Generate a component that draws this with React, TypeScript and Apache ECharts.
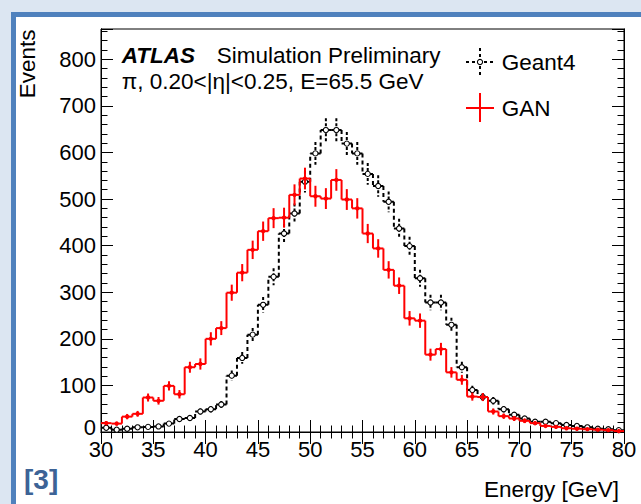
import React, { useEffect, useRef } from "react";
import * as echarts from "echarts";

const binEdges = [30, 31, 32, 33, 34, 35, 36, 37, 38, 39, 40, 41, 42, 43, 44, 45, 46, 47, 48, 49, 50, 51, 52, 53, 54, 55, 56, 57, 58, 59, 60, 61, 62, 63, 64, 65, 66, 67, 68, 69, 70, 71, 72, 73, 74, 75, 76, 77, 78, 79, 80];

const geant4 = [9, 5, 7, 10, 11, 12, 18, 28, 30, 44, 49, 59, 121, 159, 209, 273, 333, 426, 469, 537, 598, 648, 648, 619, 598, 554, 528, 494, 437, 399, 330, 278, 278, 230, 139, 90, 75, 67, 49, 37, 29, 22, 22, 19, 15, 13, 10, 7, 6, 4];

const gan = [19, 18, 33, 39, 74, 67, 99, 81, 139, 146, 200, 223, 299, 342, 391, 431, 459, 460, 509, 544, 506, 501, 541, 499, 480, 426, 394, 348, 314, 244, 239, 166, 178, 128, 112, 76, 75, 44, 34, 29, 24, 19, 13, 11, 8, 7, 6, 5, 4, 2];

const xTicks = { min: 30, max: 80, interval: 5 };
const yTicks = { min: 0, max: 865, major: 100, minor: 20 };

const FONT = "Liberation Sans, Arial, Helvetica, sans-serif";

function buildData(vals: number[]) {
  return vals.map((v, i) => [binEdges[i], binEdges[i + 1], v, i > 0 ? vals[i - 1] : -1]);
}

function makeRender(color: string, dashed: boolean) {
  return (params: any, api: any) => {
    const lo = api.value(0);
    const hi = api.value(1);
    const v = api.value(2);
    const prev = api.value(3);
    const p1 = api.coord([lo, v]);
    const p2 = api.coord([hi, v]);
    const dash = dashed ? [4, 3] : undefined;
    const lineStyle: any = { stroke: color, lineWidth: 2, lineDash: dash };
    const children: any[] = [];
    children.push({ type: "line", shape: { x1: p1[0], y1: p1[1], x2: p2[0], y2: p2[1] }, style: lineStyle });
    if (prev >= 0) {
      const pp = api.coord([lo, prev]);
      children.push({ type: "line", shape: { x1: pp[0], y1: pp[1], x2: p1[0], y2: p1[1] }, style: lineStyle });
    }
    const err = Math.sqrt(v);
    const mid = (lo + hi) / 2;
    const t = api.coord([mid, v + err]);
    const b = api.coord([mid, Math.max(0, v - err)]);
    children.push({
      type: "line",
      shape: { x1: t[0], y1: t[1], x2: b[0], y2: b[1] },
      style: { stroke: color, lineWidth: 2, lineDash: dashed ? [3, 2] : undefined },
    });
    const c = api.coord([mid, v]);
    if (dashed) {
      children.push({ type: "circle", shape: { cx: c[0], cy: c[1], r: 2.6 }, style: { fill: "#fff", stroke: color, lineWidth: 1.1 } });
    } else {
      children.push({ type: "circle", shape: { cx: c[0], cy: c[1], r: 2.2 }, style: { fill: color } });
    }
    return { type: "group", children };
  };
}

export default function App() {
  const ref = useRef<HTMLDivElement>(null);
  useEffect(() => {
    if (!ref.current) return;
    const chart = echarts.init(ref.current, null, { renderer: "svg" });
    const axisLine = { show: true, lineStyle: { color: "#000", width: 1 } };
    const hiddenLabel = { show: false };
    const yBase = { type: "value", min: yTicks.min, max: yTicks.max, splitLine: { show: false }, axisLine };
    const xBase = {
      type: "value",
      min: xTicks.min,
      max: xTicks.max,
      interval: xTicks.interval,
      splitLine: { show: false },
      axisLine,
      axisTick: { show: true, inside: true, length: 12, lineStyle: { color: "#000", width: 1 } },
      minorTick: { show: true, splitNumber: 5, length: 6.5, lineStyle: { color: "#000", width: 1 } },
      minorSplitLine: { show: false },
    };
    chart.setOption({
      animation: false,
      backgroundColor: "transparent",
      grid: { left: 101, top: 29, width: 523, height: 403, show: true, borderColor: "#000", borderWidth: 1, backgroundColor: "transparent" },
      xAxis: [
        {
          ...xBase,
          position: "bottom",
          axisLabel: { show: true, color: "#000", fontSize: 22, fontFamily: FONT, margin: 6 },
        },
        { ...xBase, position: "top", axisLabel: hiddenLabel },
      ],
      yAxis: [
        {
          ...yBase,
          position: "left",
          interval: yTicks.minor,
          axisTick: { show: true, inside: true, length: 6.5, lineStyle: { color: "#000", width: 1 } },
          axisLabel: {
            show: true,
            color: "#000",
            fontSize: 22,
            fontFamily: FONT,
            margin: 5,
            formatter: (val: number) => (val === 0 ? "{z|0}" : val % yTicks.major === 0 ? String(val) : ""),
            rich: { z: { fontSize: 22, fontFamily: FONT, color: "#000", lineHeight: 16, padding: [0, 0, 10, 0] } },
          },
        },
        {
          ...yBase,
          position: "left",
          interval: yTicks.major,
          axisTick: { show: true, inside: true, length: 12, lineStyle: { color: "#000", width: 1 } },
          axisLabel: hiddenLabel,
        },
        {
          ...yBase,
          position: "right",
          interval: yTicks.minor,
          axisTick: { show: true, inside: true, length: 6.5, lineStyle: { color: "#000", width: 1 } },
          axisLabel: hiddenLabel,
        },
        {
          ...yBase,
          position: "right",
          interval: yTicks.major,
          axisTick: { show: true, inside: true, length: 12, lineStyle: { color: "#000", width: 1 } },
          axisLabel: hiddenLabel,
        },
      ],
      series: [
        {
          name: "Geant4",
          type: "custom",
          xAxisIndex: 0,
          yAxisIndex: 0,
          renderItem: makeRender("#000", true),
          encode: { x: [0, 1], y: 2 },
          data: buildData(geant4),
          z: 2,
        },
        {
          name: "GAN",
          type: "custom",
          xAxisIndex: 0,
          yAxisIndex: 0,
          renderItem: makeRender("#ff0000", false),
          encode: { x: [0, 1], y: 2 },
          data: buildData(gan),
          z: 3,
        },
      ],
      graphic: [
        { type: "text", x: 121.7, y: 55, style: { text: "ATLAS", font: `italic bold 22.5px ${FONT}`, fill: "#000", textVerticalAlign: "middle" } },
        { type: "text", x: 216.7, y: 55, style: { text: "Simulation Preliminary", font: `22.5px ${FONT}`, fill: "#000", textVerticalAlign: "middle" } },
        { type: "text", x: 121.7, y: 81.7, style: { text: "π, 0.20<|η|<0.25, E=65.5 GeV", font: `22.5px ${FONT}`, fill: "#000", textVerticalAlign: "middle" } },
        // legend Geant4
        { type: "line", shape: { x1: 466, y1: 62, x2: 494, y2: 62 }, style: { stroke: "#000", lineWidth: 2, lineDash: [3, 3] } },
        { type: "line", shape: { x1: 480, y1: 48, x2: 480, y2: 76 }, style: { stroke: "#000", lineWidth: 2, lineDash: [3, 3] } },
        { type: "circle", shape: { cx: 480, cy: 62, r: 2.6 }, style: { fill: "#fff", stroke: "#000", lineWidth: 1.1 } },
        { type: "text", x: 501.7, y: 62, style: { text: "Geant4", font: `22.5px ${FONT}`, fill: "#000", textVerticalAlign: "middle" } },
        // legend GAN
        { type: "line", shape: { x1: 466, y1: 108, x2: 494, y2: 108 }, style: { stroke: "#ff0000", lineWidth: 2 } },
        { type: "line", shape: { x1: 480, y1: 93, x2: 480, y2: 122 }, style: { stroke: "#ff0000", lineWidth: 2 } },
        { type: "text", x: 501.7, y: 108.3, style: { text: "GAN", font: `22.5px ${FONT}`, fill: "#000", textVerticalAlign: "middle" } },
        // axis titles
        { type: "text", x: 27, y: 29.5, rotation: Math.PI / 2, style: { text: "Events", font: `22.5px ${FONT}`, fill: "#000", textAlign: "right", textVerticalAlign: "middle" } },
        { type: "text", x: 619, y: 489, style: { text: "Energy [GeV]", font: `22.5px ${FONT}`, fill: "#000", textAlign: "right", textVerticalAlign: "middle" } },
        // reference marker
        { type: "text", x: 24, y: 479, style: { text: "[3]", font: `bold 28px ${FONT}`, fill: "#3d6396", textVerticalAlign: "middle" } },
      ],
    });
    return () => chart.dispose();
  }, []);
  return (
    <div style={{ position: "absolute", left: 0, top: 0, width: 641, height: 504, background: "#dce6f2", overflow: "hidden" }}>
      <div
        style={{
          position: "absolute",
          left: 11,
          top: 12,
          width: 630,
          height: 492,
          boxSizing: "border-box",
          borderLeft: "5px solid #4f81bd",
          borderTop: "5px solid #4f81bd",
          background: "#fff",
        }}
      />
      <div ref={ref} style={{ position: "absolute", left: 0, top: 0, width: 641, height: 504 }} />
    </div>
  );
}
